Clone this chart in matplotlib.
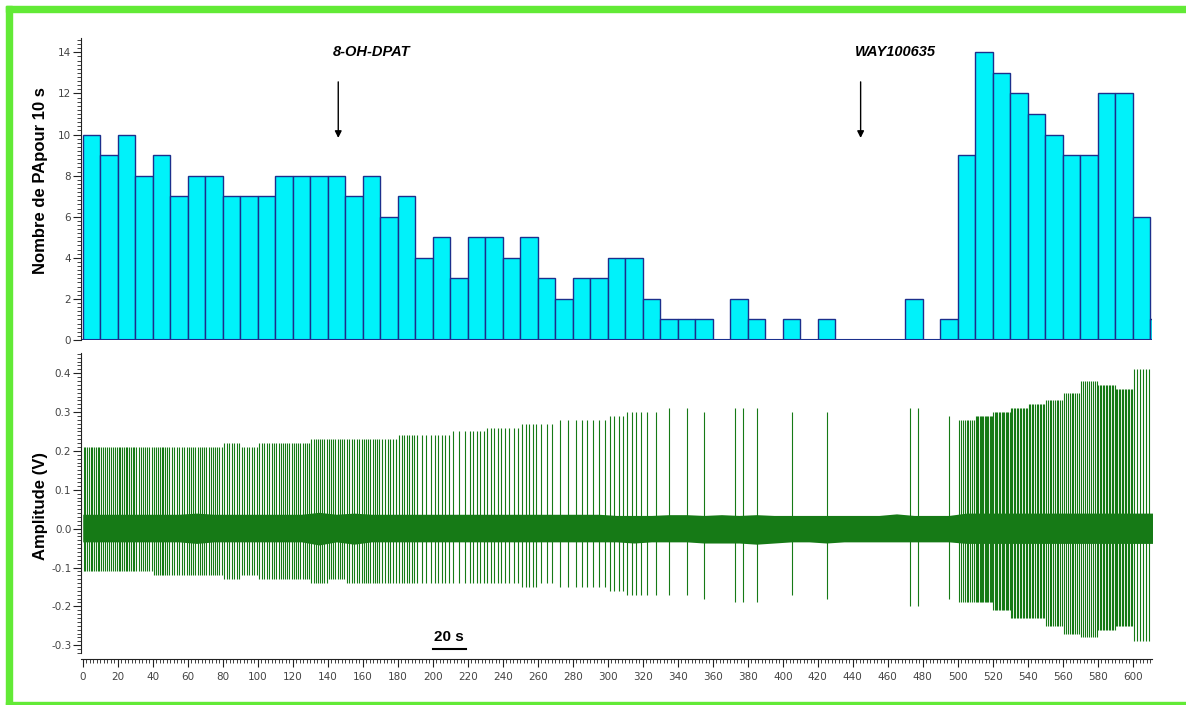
import numpy as np
import matplotlib.pyplot as plt
from matplotlib.patches import Rectangle
from matplotlib.ticker import MultipleLocator

# comptage des PA par tranche de 10 s (0 .. 610 s)
bin_starts = np.arange(0, 620, 10)
counts = [10, 9, 10, 8, 9, 7, 8, 8, 7, 7,
          7, 8, 8, 8, 8, 7, 8, 6, 7, 4,
          5, 3, 5, 5, 4, 5, 3, 2, 3, 3,
          4, 4, 2, 1, 1, 1, 0, 2, 1, 0,
          1, 0, 1, 0, 0, 0, 0, 2, 0, 1,
          9, 14, 13, 12, 11, 10, 9, 9, 12, 12,
          6, 1]

# amplitude des PA (pic / creux, V) par tranche de 10 s
spike_peak = [0.21, 0.21, 0.21, 0.21, 0.21, 0.21, 0.21, 0.21, 0.22, 0.21,
              0.22, 0.22, 0.22, 0.23, 0.23, 0.23, 0.23, 0.23, 0.24, 0.24,
              0.24, 0.25, 0.25, 0.26, 0.26, 0.27, 0.27, 0.28, 0.28, 0.28,
              0.29, 0.30, 0.30, 0.31, 0.31, 0.30, 0.00, 0.31, 0.31, 0.00,
              0.30, 0.00, 0.30, 0.00, 0.00, 0.00, 0.00, 0.31, 0.00, 0.29,
              0.28, 0.29, 0.30, 0.31, 0.32, 0.33, 0.35, 0.38, 0.37, 0.36,
              0.41, 0.38]
spike_trough = [-0.11, -0.11, -0.11, -0.11, -0.12, -0.12, -0.12, -0.12, -0.13, -0.12,
                -0.13, -0.13, -0.13, -0.14, -0.13, -0.14, -0.14, -0.14, -0.14, -0.14,
                -0.14, -0.14, -0.14, -0.14, -0.14, -0.15, -0.14, -0.15, -0.15, -0.15,
                -0.16, -0.17, -0.17, -0.17, -0.17, -0.18, 0.00, -0.19, -0.19, 0.00,
                -0.17, 0.00, -0.18, 0.00, 0.00, 0.00, 0.00, -0.20, 0.00, -0.18,
                -0.19, -0.19, -0.21, -0.23, -0.23, -0.25, -0.27, -0.28, -0.26, -0.25,
                -0.29, -0.25]

# enveloppe du bruit de fond (V) par tranche de 10 s
noise_hi = [0.037, 0.037, 0.037, 0.037, 0.037, 0.037, 0.040, 0.037, 0.037, 0.037,
            0.037, 0.037, 0.037, 0.042, 0.037, 0.040, 0.037, 0.037, 0.037, 0.037,
            0.037, 0.037, 0.037, 0.037, 0.037, 0.037, 0.037, 0.037, 0.037, 0.037,
            0.034, 0.034, 0.034, 0.036, 0.036, 0.034, 0.036, 0.034, 0.036, 0.034,
            0.034, 0.034, 0.034, 0.034, 0.034, 0.034, 0.038, 0.034, 0.034, 0.034,
            0.040, 0.040, 0.040, 0.040, 0.040, 0.040, 0.040, 0.040, 0.040, 0.040,
            0.040, 0.040]
noise_lo = [-0.034, -0.034, -0.034, -0.034, -0.034, -0.034, -0.038, -0.034, -0.034, -0.034,
            -0.034, -0.034, -0.034, -0.042, -0.034, -0.040, -0.034, -0.034, -0.034, -0.034,
            -0.034, -0.034, -0.034, -0.034, -0.034, -0.034, -0.034, -0.034, -0.034, -0.034,
            -0.034, -0.037, -0.034, -0.034, -0.034, -0.037, -0.037, -0.037, -0.040, -0.037,
            -0.034, -0.034, -0.037, -0.034, -0.034, -0.034, -0.034, -0.034, -0.034, -0.034,
            -0.038, -0.038, -0.038, -0.038, -0.038, -0.038, -0.038, -0.038, -0.038, -0.038,
            -0.038, -0.038]

# injections
drugs = ['8-OH-DPAT', 'WAY100635']
drug_times = [146, 444.5]

W, H = 1186, 705
fig = plt.figure(figsize=(W / 100, H / 100), dpi=100)


def px_rect(left, top, right, bottom):
    return [left / W, 1 - bottom / H, (right - left) / W, (bottom - top) / H]


tick_color = '#444444'
edge_col = '#1c2f8c'
trace_col = '#167a16'

# --- histogramme ---
ax1 = fig.add_axes(px_rect(81, 38, 1152, 340))
ax1.bar(bin_starts, counts, width=10, align='edge', color='#00f2fa',
        edgecolor=edge_col, linewidth=1)
ax1.axhline(0, color=edge_col, linewidth=1.5)
ax1.set_xlim(-1, 611)
ax1.set_ylim(0, 14.7)
for s in ['top', 'right', 'bottom']:
    ax1.spines[s].set_visible(False)
ax1.spines['left'].set_color('#222222')
ax1.set_xticks([])
ax1.yaxis.set_major_locator(MultipleLocator(2))
ax1.yaxis.set_minor_locator(MultipleLocator(0.2))
ax1.tick_params(axis='y', which='major', length=6, labelsize=7.5, colors='#222222',
                labelcolor=tick_color, pad=1)
ax1.tick_params(axis='y', which='minor', length=3, colors='#222222')

for name, t in zip(drugs, drug_times):
    ax1.annotate('', xy=(t, 9.7), xytext=(t, 12.7),
                 arrowprops=dict(arrowstyle='-|>', color='black', lw=1,
                                 mutation_scale=10))
    ax1.text(t - 3, 14.0, name, ha='left', va='center', fontsize=10.5,
             fontweight='bold', fontstyle='italic', family='Liberation Sans')

# --- trace ---
ax2 = fig.add_axes(px_rect(81, 353, 1152, 653))
xs = np.r_[0, bin_starts + 5, 620]
ax2.fill_between(xs, np.r_[noise_lo[0], noise_lo, noise_lo[-1]],
                 np.r_[noise_hi[0], noise_hi, noise_hi[-1]],
                 color=trace_col, linewidth=0)

times, tops, bots = [], [], []
for start, n, pk, tr in zip(bin_starts, counts, spike_peak, spike_trough):
    for k in range(n):
        times.append(start + (k + 0.5) * 10 / n)
        tops.append(pk)
        bots.append(tr)
ax2.vlines(times, bots, tops, color=trace_col, linewidth=0.8)

ax2.set_xlim(-1, 611)
ax2.set_ylim(-0.32, 0.452)
ax2.spines['top'].set_visible(False)
ax2.spines['right'].set_visible(False)
ax2.spines['bottom'].set_position(('outward', 4))
ax2.spines['left'].set_color('#222222')
ax2.spines['bottom'].set_color('#222222')
ax2.yaxis.set_minor_locator(MultipleLocator(0.01))
ax2.xaxis.set_major_locator(MultipleLocator(20))
ax2.xaxis.set_minor_locator(MultipleLocator(2))
ax2.set_yticks(np.arange(-0.3, 0.45, 0.1))
ax2.set_yticklabels([f'{v:.1f}' for v in np.arange(-0.3, 0.45, 0.1)])
ax2.tick_params(axis='both', which='major', length=6, labelsize=7.5, colors='#222222',
                labelcolor=tick_color, pad=1)
ax2.tick_params(axis='x', which='major', pad=4)
ax2.tick_params(axis='both', which='minor', length=3, colors='#222222')

# barre d'échelle 20 s
ax2.plot([200, 219], [-0.309, -0.309], color='black', linewidth=1.5, clip_on=False)
ax2.text(209.5, -0.28, '20 s', ha='center', va='center', fontsize=11,
         fontweight='bold', family='Liberation Sans')

fig.text(41 / W, 1 - 181 / H, 'Nombre de PApour 10 s', rotation=90, ha='center',
         va='center', fontsize=12, fontweight='bold', family='Liberation Sans')
fig.text(41 / W, 1 - 506 / H, 'Amplitude (V)', rotation=90, ha='center',
         va='center', fontsize=12, fontweight='bold', family='Liberation Sans')

# cadre vert
green = '#62ea36'
fig.patches.append(Rectangle((6 / W, 0), 6 / W, 1 - 6 / H, transform=fig.transFigure,
                             color=green, zorder=0))
fig.patches.append(Rectangle((6 / W, 1 - 12 / H), 1, 6 / H, transform=fig.transFigure,
                             color=green, zorder=0))
fig.patches.append(Rectangle((6 / W, 0), 1, 3 / H, transform=fig.transFigure,
                             color=green, zorder=0))

fig.savefig('out.png', dpi=100)
